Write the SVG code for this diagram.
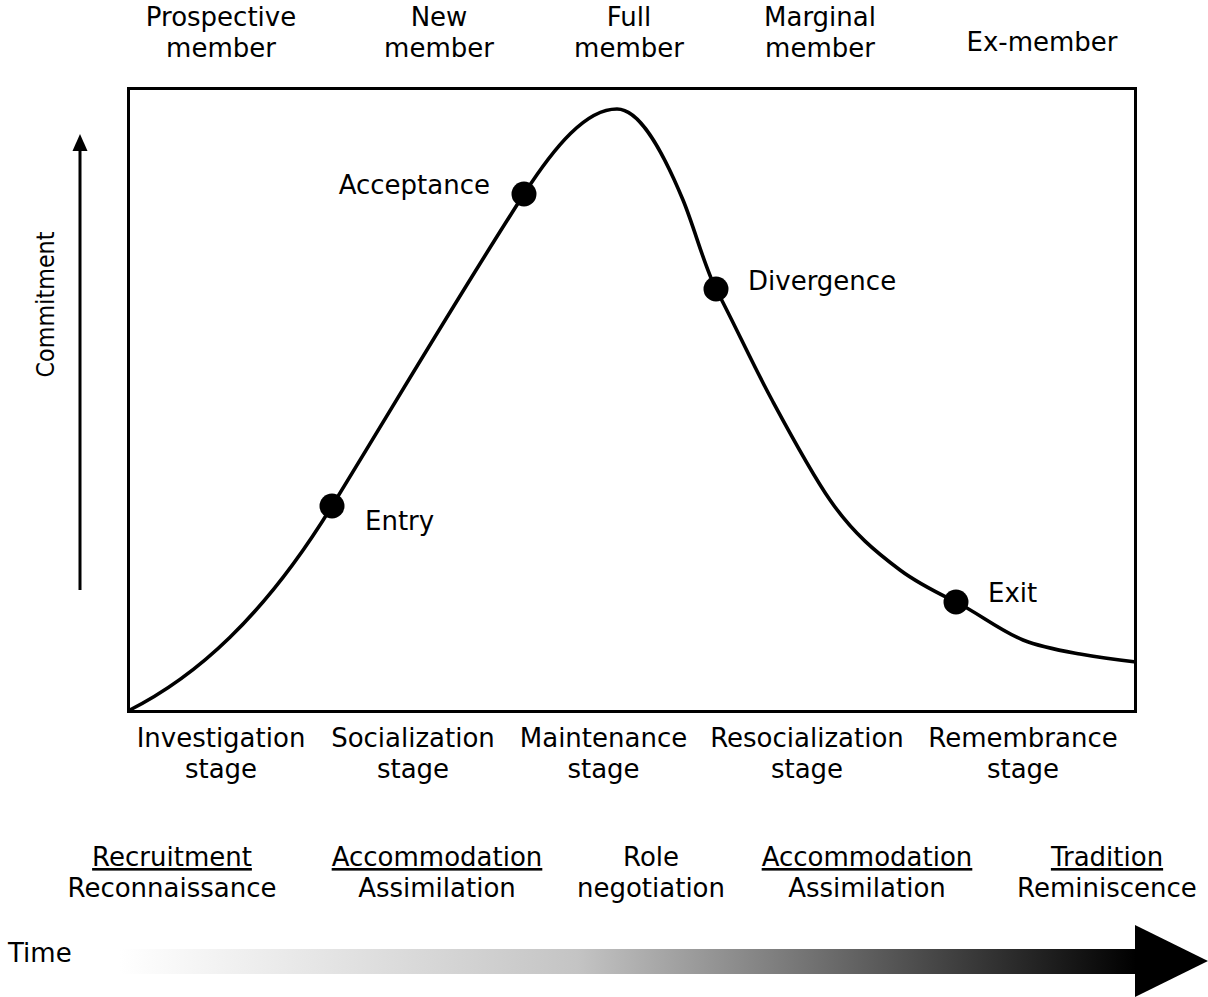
<svg xmlns="http://www.w3.org/2000/svg" width="1208" height="997" viewBox="0 0 1208 997">
<style>
text{font-family:"DejaVu Sans","Liberation Sans",sans-serif;font-size:26px;fill:#000}
.c{text-anchor:middle}
.e{text-anchor:end}
.u{text-decoration:underline}
.dot{fill:#000}
.ln{fill:none;stroke:#000;stroke-width:3}
.cv{fill:none;stroke:#000;stroke-width:3.6;stroke-linejoin:round}
</style>
<defs>
<linearGradient id="tg" x1="120" y1="0" x2="1136" y2="0" gradientUnits="userSpaceOnUse">
<stop offset="0" stop-color="#ffffff"/>
<stop offset="0.45" stop-color="#c4c4c4"/>
<stop offset="1" stop-color="#000000"/>
</linearGradient>
</defs>
<rect x="0" y="0" width="1208" height="997" fill="#fff"/>
<g id="frame"><rect x="128.5" y="88.5" width="1007" height="623" class="ln"/></g>
<g id="connectors">
<path id="curve" class="cv" d="M128,711 C196,677 264,616.8 332,506 C396,401.7 460,293.2 524,194 C555,146 586,109 617,109 C639,109 661,147.2 683,200 C694,226.4 705,268.1 716,289 C734.7,324.5 753.3,365.5 772,400 C791.3,435.8 810.7,472 830,500 C853.3,533.8 876.7,552.5 900,570 C918.7,584 937.3,592.7 956,602 C978.3,613.2 1000.7,631.1 1023,640 C1042,647.6 1061,650.6 1080,654 C1098.7,657.4 1117.3,659.8 1136,662"/>
<g id="commitment-arrow"><line x1="80" y1="590" x2="80" y2="150" class="ln"/><polygon points="72.5,151 87.5,151 80,134" fill="#000"/></g>
<g id="time-arrow"><rect x="120" y="949" width="1016" height="25" fill="url(#tg)"/><polygon points="1135,925 1208,961 1135,997" fill="#000"/></g>
</g>
<g id="entry"><circle cx="332" cy="506" r="12.5" class="dot"/><text x="365" y="530">Entry</text></g>
<g id="acceptance"><circle cx="524" cy="194" r="12.5" class="dot"/><text x="490" y="194" class="e">Acceptance</text></g>
<g id="divergence"><circle cx="716" cy="289" r="12.5" class="dot"/><text x="748" y="290">Divergence</text></g>
<g id="exit"><circle cx="956" cy="602" r="12.5" class="dot"/><text x="988" y="602">Exit</text></g>
<g id="label-commitment"><text class="c" style="font-size:25px" textLength="146" lengthAdjust="spacingAndGlyphs" transform="translate(54,304.5) rotate(-90)">Commitment</text></g>
<g id="label-time"><text x="8" y="962">Time</text></g>
<g id="top-prospective"><text x="221" y="26" class="c">Prospective</text><text x="221" y="57" class="c">member</text></g>
<g id="top-new"><text x="439" y="26" class="c">New</text><text x="439" y="57" class="c">member</text></g>
<g id="top-full"><text x="629" y="26" class="c">Full</text><text x="629" y="57" class="c">member</text></g>
<g id="top-marginal"><text x="820" y="26" class="c">Marginal</text><text x="820" y="57" class="c">member</text></g>
<g id="top-ex"><text x="1042" y="51" class="c">Ex-member</text></g>
<g id="stage-investigation"><text x="221" y="747" class="c">Investigation</text><text x="221" y="778" class="c">stage</text></g>
<g id="stage-socialization"><text x="413" y="747" class="c">Socialization</text><text x="413" y="778" class="c">stage</text></g>
<g id="stage-maintenance"><text x="603.5" y="747" class="c">Maintenance</text><text x="603.5" y="778" class="c">stage</text></g>
<g id="stage-resocialization"><text x="807" y="747" class="c">Resocialization</text><text x="807" y="778" class="c">stage</text></g>
<g id="stage-remembrance"><text x="1023" y="747" class="c">Remembrance</text><text x="1023" y="778" class="c">stage</text></g>
<g id="proc-recruitment"><text x="172" y="866" class="c u">Recruitment</text><text x="172" y="897" class="c">Reconnaissance</text></g>
<g id="proc-accommodation1"><text x="437" y="866" class="c u">Accommodation</text><text x="437" y="897" class="c">Assimilation</text></g>
<g id="proc-role"><text x="651" y="866" class="c">Role</text><text x="651" y="897" class="c">negotiation</text></g>
<g id="proc-accommodation2"><text x="867" y="866" class="c u">Accommodation</text><text x="867" y="897" class="c">Assimilation</text></g>
<g id="proc-tradition"><text x="1107" y="866" class="c u">Tradition</text><text x="1107" y="897" class="c">Reminiscence</text></g>
</svg>
